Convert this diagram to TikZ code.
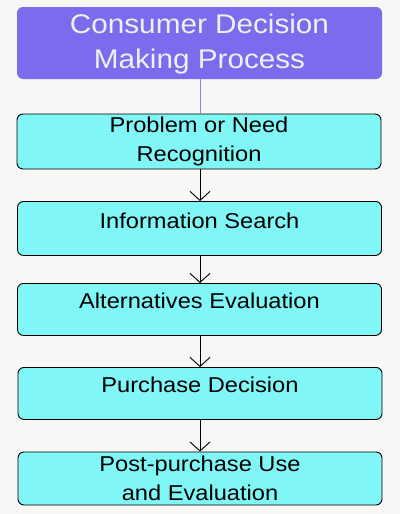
\documentclass[tikz,border=0pt]{standalone}
\usepackage{fontspec}
\setmainfont{Liberation Sans}
\newfontfamily\widefont[FakeStretch=1.1]{Liberation Sans}
\usetikzlibrary{arrows.meta}
\definecolor{bg}{HTML}{F7F7F5}
\definecolor{titlefill}{HTML}{7B6CEE}
\definecolor{titletext}{HTML}{F0F0F0}
\definecolor{stepfill}{HTML}{80F6F6}
\definecolor{titleline}{HTML}{8C82E0}
\tikzset{
  titlebox/.style={fill=titlefill, text=titletext, rounded corners=6pt, minimum width=365pt, minimum height=72pt,
    inner sep=0pt, align=center, font=\widefont\fontsize{27}{35}\selectfont},
  stepbox/.style={draw=black, line width=0.9pt, fill=stepfill, rounded corners=6pt, minimum width=364pt,
    inner sep=0pt, font=\widefont\fontsize{21.5}{29}\selectfont},
  flow/.style={draw=black, line width=0.9pt, -{Straight Barb[length=9pt, width=20pt, line width=0.9pt]}}
}
\begin{document}
\begin{tikzpicture}[x=1pt,y=-1pt]
\fill[bg] (0,0) rectangle (400,514);
\useasboundingbox (0,0) rectangle (400,514);
\fill[titlefill, rounded corners=6pt] (17,7) rectangle (382,79);
\node[titlebox, fill=none, minimum height=0pt] (title) at (199.5,44) {Consumer Decision\\Making Process};
\coordinate (tb) at (200,79);
\node[stepbox, align=center, minimum height=55pt] (s1) at (199,141.5) {Problem or Need\\Recognition};
\node[stepbox, anchor=north, text height=27pt, text depth=27pt] (s2) at (199.5,201) {Information Search};
\node[stepbox, anchor=north, text height=25pt, text depth=27pt] (s3) at (199.5,283) {Alternatives Evaluation};
\node[stepbox, anchor=north, text height=25pt, text depth=27pt] (s4) at (200,367) {Purchase Decision};
\node[stepbox, align=center, minimum height=53pt] (s5) at (200,478.5) {Post-purchase Use\\and Evaluation};
\draw[titleline, line width=0.9pt] (tb) -- (s1.north -| tb);
\draw[flow] (s1.south -| tb) -- (s2.north -| tb);
\draw[flow] (s2.south -| tb) -- (s3.north -| tb);
\draw[flow] (s3.south -| tb) -- (s4.north -| tb);
\draw[flow] (s4.south -| tb) -- (s5.north -| tb);
\end{tikzpicture}
\end{document}
